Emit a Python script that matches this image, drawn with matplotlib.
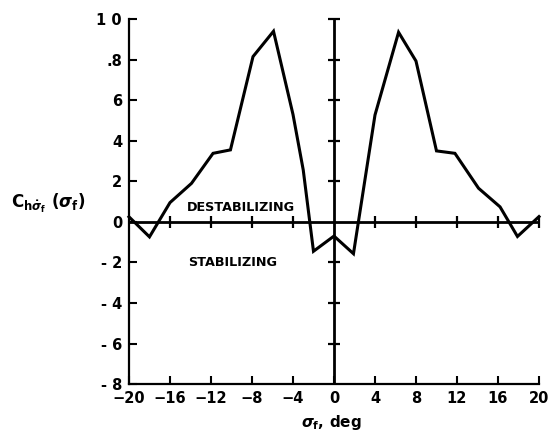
import matplotlib
matplotlib.use("Agg")
import matplotlib.pyplot as plt

# hinge moment derivative vs flap deflection
sigma_f = [-20, -18, -16, -13.9, -11.8, -10.1, -7.9, -5.9, -4.0, -3.0, -2.0,
           0.0, 1.9, 4.0, 6.3, 8.0, 10.0, 11.8, 14.1, 16.2, 17.9, 20]
ch = [0.025, -0.074, 0.095, 0.19, 0.338, 0.355, 0.815, 0.94, 0.53, 0.256, -0.145,
      -0.07, -0.157, 0.527, 0.935, 0.793, 0.35, 0.338, 0.166, 0.074, -0.072, 0.026]

xticks = [-20, -16, -12, -8, -4, 0, 4, 8, 12, 16, 20]
xlabels = ["\u221220", "\u221216", "\u221212", "\u22128", "\u22124", "0", "4", "8", "12", "16", "20"]
yticks = [-0.8, -0.6, -0.4, -0.2, 0.0, 0.2, 0.4, 0.6, 0.8, 1.0]
ylabels = ["- 8", "- 6", "- 4", "- 2", "0", "2", "4", "6", ".8", "1 0"]

plt.rcParams["font.family"] = ["DejaVu Sans"]
plt.rcParams["font.weight"] = "bold"
plt.rcParams["mathtext.fontset"] = "dejavusans"

fig = plt.figure(figsize=(5.5, 4.34), dpi=100)
ax = fig.add_axes([0.2345, 0.115, 0.7455, 0.841])

ax.plot(sigma_f, ch, color="black", lw=2.2, solid_joinstyle="miter", clip_on=False, zorder=3)

# axes through the origin
ax.axhline(0, color="black", lw=2.0, zorder=2)
ax.axvline(0, color="black", lw=2.0, zorder=2)

# crossing ticks on the zero lines
inner_x = [v for v in xticks if v not in (-20, 0)]
ax.plot(inner_x, [0] * len(inner_x), ls="none", marker="|", ms=9, mew=1.6,
        color="black", clip_on=False)
inner_y = [v for v in yticks if v not in (-0.8, 0.0)]
ax.plot([0] * len(inner_y), inner_y, ls="none", marker="_", ms=9, mew=1.6,
        color="black", clip_on=False)

ax.set_xlim(-20, 20)
ax.set_ylim(-0.8, 1.0)
ax.set_xticks(xticks)
ax.set_xticklabels(xlabels)
ax.set_yticks(yticks)
ax.set_yticklabels(ylabels)

for side in ("top", "right"):
    ax.spines[side].set_visible(False)
for side in ("left", "bottom"):
    ax.spines[side].set_linewidth(1.6)

ax.tick_params(direction="in", length=6, width=1.5, labelsize=10.5)
ax.tick_params(axis="x", pad=5)
ax.tick_params(axis="y", pad=5)

ax.text(-9.1, 0.072, "DESTABILIZING", ha="center", va="center", fontsize=9.2, fontweight="bold")
ax.text(-9.9, -0.2, "STABILIZING", ha="center", va="center", fontsize=9.2, fontweight="bold")

fig.text(0.088, 1 - 203 / 434,
         r"$\mathbf{C}_{\mathbf{h}\dot{\sigma}_{\mathbf{f}}}\ (\sigma_{\mathbf{f}})$",
         ha="center", va="center", fontsize=12)
fig.text(331 / 550, 1 - 422 / 434, r"$\sigma_{\mathbf{f}}$, deg",
         ha="center", va="center", fontsize=11, fontweight="bold")

fig.savefig("out.png", dpi=100)
